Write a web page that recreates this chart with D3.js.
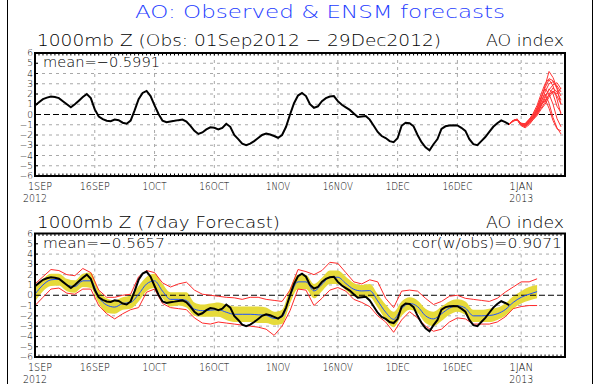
<!DOCTYPE html>
<html>
<head>
<meta charset="utf-8">
<script src="https://cdn.jsdelivr.net/npm/d3@7"></script>
<style>
  body { margin: 0; background: #fff; }
  text { font-family: "DejaVu Sans", "Liberation Sans", sans-serif; font-weight: 200; }
</style>
</head>
<body>
<svg width="600" height="384"></svg>
<script>
// observed daily AO index, 1 Sep 2012 .. 29 Dec 2012
var obsStart = new Date(Date.UTC(2012, 8, 1));
var obs = [
  0.88, 1.2, 1.5, 1.65, 1.75, 1.7, 1.6, 1.3, 1.0, 0.7,
  1.0, 1.35, 1.7, 2.0, 1.6, 0.5, -0.2, -0.45, -0.6, -0.65,
  -0.5, -0.55, -0.8, -0.9, -0.6, 0.4, 1.5, 2.1, 2.3, 1.8,
  0.9, 0.05, -0.6, -0.75, -0.68, -0.62, -0.55, -0.5, -0.68, -1.1,
  -1.6, -1.9, -1.75, -1.45, -1.25, -1.3, -1.45, -1.3, -0.9, -1.2,
  -2.0, -2.4, -2.85, -3.0, -2.85, -2.6, -2.3, -2.0, -1.85, -1.95,
  -2.1, -2.27, -2.0, -1.2, 0.0, 1.1, 1.85, 2.1, 1.8, 1.0,
  0.65, 0.8, 1.3, 1.6, 1.75, 1.8, 1.3, 0.95, 0.7, 0.45,
  0.1, -0.25, -0.2, -0.15, -0.5, -1.1, -1.7, -2.1, -2.3, -2.6,
  -2.7, -2.3, -1.1, -0.8, -0.85, -1.15, -2.0, -2.7, -3.2, -3.5,
  -2.9, -2.4, -1.4, -1.15, -1.07, -1.05, -1.07, -1.3, -1.6, -2.4,
  -2.9, -3.0, -2.6, -2.2, -1.7, -1.2, -0.85, -0.58, -0.75, -0.97
];

// ENSM members, days 119..132 after 1 Sep
var ensDays = [119, 120, 121, 122, 123, 124, 125, 126, 127, 128, 129, 130, 131, 132];
var members = [
  [-0.97, -0.6, -0.45, -0.9, -1.0, -0.6, -0.2, 0.5, 1.5, 2.8, 4.2, 3.6, 2.6, 1.8],
  [-0.97, -0.6, -0.5, -0.95, -0.9, -0.5, 0.1, 0.9, 2.0, 3.0, 3.5, 3.3, 2.5, 1.0],
  [-0.97, -0.65, -0.5, -1.0, -1.1, -0.7, -0.3, 0.2, 1.2, 2.2, 3.0, 3.2, 2.8, 2.2],
  [-0.97, -0.6, -0.45, -0.85, -0.95, -0.6, -0.2, 0.4, 1.0, 1.8, 2.4, 2.9, 3.1, 2.5],
  [-0.97, -0.6, -0.5, -1.05, -1.2, -0.8, -0.4, 0.0, 0.8, 1.6, 2.5, 2.0, 0.8, 0.2],
  [-0.97, -0.6, -0.55, -1.1, -1.3, -1.0, -0.5, 0.1, 0.9, 1.5, 0.6, -0.6, -1.4, -1.6],
  [-0.97, -0.65, -0.5, -1.0, -1.1, -0.8, -0.3, 0.3, 1.3, 2.0, 1.1, -0.3, -1.3, -1.9],
  [-0.97, -0.6, -0.5, -0.9, -1.0, -0.7, -0.2, 0.4, 1.0, 1.3, 1.9, 2.3, 1.8, 1.0],
  [-0.97, -0.6, -0.5, -0.95, -1.05, -0.75, -0.35, 0.1, 0.6, 1.2, 2.0, 2.6, 2.2, 1.4],
  [-0.97, -0.6, -0.5, -0.9, -0.95, -0.55, -0.1, 0.6, 1.6, 2.6, 3.4, 2.8, 1.5, 0.0],
  [-0.97, -0.6, -0.45, -0.85, -0.9, -0.45, 0.0, 0.7, 1.7, 2.5, 2.0, 1.0, -0.4, -1.2],
  [-0.97, -0.6, -0.5, -1.0, -1.15, -0.9, -0.5, -0.1, 0.5, 1.0, 1.7, 2.2, 2.0, 2.6]
];

// 7day forecast, every 2nd day from 1 Sep
var fcDays = d3.range(0, 127, 2);
var fcMean = [0.1, 1.0, 1.5, 1.55, 1.0, 0.85, 1.4, 1.4, -0.2, -0.95, -1.15, -0.8, -0.7, 0.1, 1.1, 1.4,
  0.4, -0.4, -0.4, -0.5, -1.35, -1.5, -1.45, -1.4, -1.65, -1.85, -1.85, -1.85, -1.9, -1.95, -2.25, -2.1,
  -0.06, 1.3, 1.3, 0.42, 1.05, 1.75, 1.75, 1.15, 0.58, 0.42, 0.45, -0.55, -1.65, -2.34, -1.3, -0.8,
  -1.1, -2.0, -2.3, -1.8, -1.25, -1.02, -1.25, -2.0, -2.0, -1.97, -1.8, -1.4, -0.7, -0.2, 0.1, 0.35];
var fcLo = [-0.6, 0.4, 0.9, 0.95, 0.4, 0.25, 0.8, 0.7, -0.8, -1.7, -1.8, -1.4, -1.3, -0.6, 0.4, 0.7,
  -0.3, -1.1, -1.0, -1.2, -2.0, -2.1, -2.1, -2.1, -2.4, -2.6, -2.6, -2.6, -2.7, -2.7, -2.9, -2.8,
  -0.8, 0.6, 0.6, -0.3, 0.4, 1.1, 1.1, 0.5, -0.1, -0.2, -0.2, -1.2, -2.4, -3.1, -2.0, -1.4,
  -1.7, -2.7, -3.0, -2.5, -1.9, -1.6, -1.9, -2.6, -2.6, -2.6, -2.4, -2.0, -1.3, -0.8, -0.5, -0.3];
var fcHi = [0.8, 1.6, 2.1, 2.1, 1.6, 1.45, 2.1, 2.2, 0.5, -0.3, -0.5, -0.2, 0.0, 0.9, 1.8, 2.1,
  1.1, 0.3, 0.3, 0.3, -0.7, -0.9, -0.8, -0.7, -0.9, -1.1, -1.1, -1.1, -1.1, -1.2, -1.6, -1.4,
  0.7, 2.0, 2.0, 1.1, 1.7, 2.4, 2.4, 1.8, 1.2, 1.0, 1.1, 0.1, -0.9, -1.6, -0.6, -0.2,
  -0.5, -1.3, -1.6, -1.1, -0.6, -0.4, -0.6, -1.4, -1.4, -1.3, -1.2, -0.8, -0.1, 0.4, 0.8, 1.0];
var fcMax = [1.1, 1.8, 2.5, 2.4, 2.0, 1.9, 2.6, 2.2, 0.5, -0.2, -0.2, 0.0, 0.1, 1.8, 2.4, 2.2,
  1.2, 0.8, 1.1, 1.27, 0.5, 0.1, 0.0, -0.1, -0.2, -0.25, -0.4, -0.2, -0.2, -0.4, -0.5, -0.6,
  0.5, 2.5, 2.3, 2.0, 2.4, 3.2, 3.1, 2.2, 1.3, 1.1, 1.5, 1.3, -0.3, -1.2, 0.4, 0.5,
  0.4, -0.3, -0.9, -0.6, -0.1, 0.0, -0.3, -0.4, -0.5, -0.6, -0.3, 0.3, 0.8, 1.3, 1.3, 1.6];
var fcMin = [-1.0, -0.2, 0.6, 0.7, 0.2, 0.1, 0.6, 0.6, -1.0, -1.8, -2.3, -1.8, -1.4, -1.2, 0.3, 0.6,
  -0.8, -1.2, -1.3, -1.4, -2.2, -2.7, -2.8, -2.6, -2.7, -2.8, -2.9, -3.0, -3.1, -3.3, -3.9, -3.0,
  -1.5, 0.6, 0.5, -1.0, -0.3, 0.5, 0.75, 0.4, -0.4, -0.7, -1.1, -2.0, -2.6, -3.6, -2.4, -1.6,
  -2.2, -3.0, -3.5, -3.3, -2.6, -2.2, -2.3, -2.8, -2.8, -2.8, -2.6, -2.1, -1.3, -1.1, -1.0, -1.0];

var tickDates = ["2012-09-01", "2012-09-16", "2012-10-01", "2012-10-16", "2012-11-01",
                 "2012-11-16", "2012-12-01", "2012-12-16", "2013-01-01"];
var tickLabels = ["1SEP", "16SEP", "1OCT", "16OCT", "1NOV", "16NOV", "1DEC", "16DEC", "1JAN"];
var yearLabels = ["2012", "", "", "", "", "", "", "", "2013"];
var yTicks = [-6, -5, -4, -3, -2, -1, 0, 1, 2, 3, 4, 5, 6];

var svg = d3.select("svg");

function dayDate(d) { return new Date(obsStart.getTime() + d * 864e5); }

var x = d3.scaleUtc()
    .domain([obsStart, new Date(Date.UTC(2013, 0, 12))])
    .range([35, 565]);

// frame lines
svg.append("line").attr("x1", 7.5).attr("x2", 7.5).attr("y1", 0).attr("y2", 384).attr("stroke", "#000");
svg.append("line").attr("x1", 592.5).attr("x2", 592.5).attr("y1", 0).attr("y2", 384).attr("stroke", "#000");

svg.append("text")
    .attr("x", 135).attr("y", 18)
    .attr("textLength", 370).attr("lengthAdjust", "spacingAndGlyphs")
    .attr("font-size", 18.5).attr("fill", "#1e3cff")
    .text("AO: Observed & ENSM forecasts");

function label(g, txt, xx, yy, len, size) {
  return g.append("text").attr("x", xx).attr("y", yy)
    .attr("textLength", len).attr("lengthAdjust", "spacingAndGlyphs")
    .attr("font-size", size).attr("fill", "#000").text(txt);
}

function panel(top, bottom) {
  var g = svg.append("g");
  var y = d3.scaleLinear().domain([-6, 6]).range([bottom, top]);

  // grid
  g.append("g").selectAll("line").data(yTicks.filter(function(v) { return v !== 0 && Math.abs(v) < 6; }))
    .enter().append("line")
      .attr("x1", 35).attr("x2", 565)
      .attr("y1", function(d) { return y(d); }).attr("y2", function(d) { return y(d); })
      .attr("stroke", "#a8a8a8").attr("stroke-dasharray", "3,4");
  g.append("g").selectAll("line").data(tickDates.slice(1))
    .enter().append("line")
      .attr("x1", function(d) { return x(new Date(d)); }).attr("x2", function(d) { return x(new Date(d)); })
      .attr("y1", top).attr("y2", bottom)
      .attr("stroke", "#a8a8a8").attr("stroke-dasharray", "3,4");

  // y labels and ticks
  g.append("g").selectAll("text").data(yTicks)
    .enter().append("text")
      .attr("x", 33).attr("y", function(d) { return y(d) + 3; })
      .attr("text-anchor", "end").attr("font-size", 9)
      .text(function(d) { return d < 0 ? "\u2212" + (-d) : d; });
  g.append("g").selectAll("line").data(yTicks)
    .enter().append("line")
      .attr("x1", 35).attr("x2", 38)
      .attr("y1", function(d) { return y(d); }).attr("y2", function(d) { return y(d); })
      .attr("stroke", "#000");

  // day ticks on top and bottom border
  var days = d3.utcDays(obsStart, new Date(Date.UTC(2013, 0, 12)));
  g.append("g").selectAll("line").data(days)
    .enter().append("line")
      .attr("x1", function(d) { return x(d); }).attr("x2", function(d) { return x(d); })
      .attr("y1", bottom).attr("y2", bottom - 2.5)
      .attr("stroke", "#000");
  g.append("g").selectAll("line").data(days)
    .enter().append("line")
      .attr("x1", function(d) { return x(d); }).attr("x2", function(d) { return x(d); })
      .attr("y1", top).attr("y2", top + 2.5)
      .attr("stroke", "#000");

  // x labels
  g.append("g").selectAll("text").data(tickDates)
    .enter().append("text")
      .attr("x", function(d, i) { return x(new Date(d)) + (i === 0 ? 5 : 0); })
      .attr("y", bottom + 13.5)
      .attr("text-anchor", "middle").attr("font-size", 10)
      .attr("textLength", function(d, i) { return tickLabels[i].length * 6; })
      .attr("lengthAdjust", "spacingAndGlyphs")
      .text(function(d, i) { return tickLabels[i]; });
  g.append("g").selectAll("text").data(tickDates.filter(function(d, i) { return yearLabels[i]; }))
    .enter().append("text")
      .attr("x", function(d) { return x(new Date(d)); })
      .attr("y", bottom + 25.5)
      .attr("text-anchor", "middle").attr("font-size", 10)
      .attr("textLength", 24).attr("lengthAdjust", "spacingAndGlyphs")
      .text(function(d) { return yearLabels[tickDates.indexOf(d)]; });

  return { g: g, y: y };
}

function zeroLine(p) {
  p.g.append("line")
    .attr("x1", 35).attr("x2", 565).attr("y1", p.y(0)).attr("y2", p.y(0))
    .attr("stroke", "#000").attr("stroke-dasharray", "6,3");
}

function box(p, top, bottom) {
  p.g.append("rect")
    .attr("x", 35).attr("y", top).attr("width", 530).attr("height", bottom - top)
    .attr("fill", "none").attr("stroke", "#000").attr("stroke-width", 2);
}

// ---- top panel ----
var topP = panel(53, 176);
zeroLine(topP);

var obsLine = function(p) {
  return d3.line()
    .x(function(d, i) { return x(dayDate(i)); })
    .y(function(d) { return p.y(d); });
};

topP.g.append("path").datum(obs)
  .attr("d", obsLine(topP))
  .attr("fill", "none").attr("stroke", "#000").attr("stroke-width", 2);

var memLine = d3.line()
  .x(function(d, i) { return x(dayDate(ensDays[i])); })
  .y(function(d) { return topP.y(d); });
topP.g.append("g").selectAll("path").data(members)
  .enter().append("path")
    .attr("d", memLine)
    .attr("fill", "none").attr("stroke", "#ff3434").attr("stroke-width", 1);

box(topP, 53, 176);

label(svg, "1000mb Z (Obs: 01Sep2012 \u2212 29Dec2012)", 37, 46, 404, 16.5);
label(svg, "AO index", 486, 46, 78, 16.5);
svg.append("rect").attr("x", 41).attr("y", 56).attr("width", 121).attr("height", 13).attr("fill", "#fff");
label(svg, "mean=\u22120.5991", 43, 67, 117, 14);

// ---- bottom panel ----
var botP = panel(233.5, 357);

var band = d3.area()
  .x(function(d, i) { return x(dayDate(fcDays[i])); })
  .y0(function(d, i) { return botP.y(fcLo[i]); })
  .y1(function(d, i) { return botP.y(fcHi[i]); })
  .curve(d3.curveMonotoneX);
botP.g.append("path").datum(fcDays)
  .attr("d", band)
  .attr("fill", "#e6da3a");

zeroLine(botP);

var fcLine = function(arr, smooth) {
  var l = d3.line()
    .x(function(d, i) { return x(dayDate(fcDays[i])); })
    .y(function(d) { return botP.y(d); });
  if (smooth) l.curve(d3.curveMonotoneX);
  return l(arr);
};

[fcMax, fcMin].forEach(function(arr) {
  botP.g.append("path").attr("d", fcLine(arr, false))
    .attr("fill", "none").attr("stroke", "#ff2a2a").attr("stroke-width", 1);
});
botP.g.append("path").attr("d", fcLine(fcMean, true))
  .attr("fill", "none").attr("stroke", "#1e50ff").attr("stroke-width", 1);

botP.g.append("path").datum(obs)
  .attr("d", obsLine(botP))
  .attr("fill", "none").attr("stroke", "#000").attr("stroke-width", 2);

box(botP, 233.5, 357);

label(svg, "1000mb Z (7day Forecast)", 37, 228, 243, 16.5);
label(svg, "AO index", 486, 228, 78, 16.5);
svg.append("rect").attr("x", 41).attr("y", 237).attr("width", 126).attr("height", 13).attr("fill", "#fff");
label(svg, "mean=\u22120.5657", 43, 248, 122, 14);
svg.append("rect").attr("x", 409).attr("y", 237).attr("width", 155).attr("height", 13).attr("fill", "#fff");
label(svg, "cor(w/obs)=0.9071", 412, 248, 150, 14);
</script>
</body>
</html>
